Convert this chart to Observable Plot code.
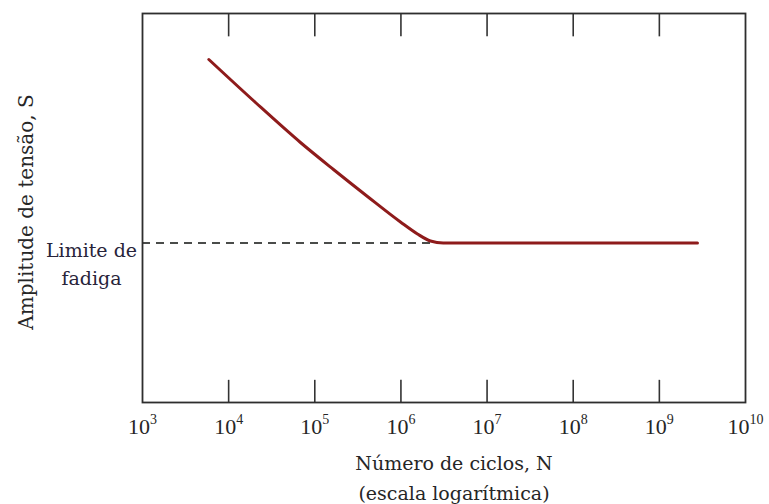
<!DOCTYPE html>
<html>
<head>
<meta charset="utf-8">
<script src="https://cdn.jsdelivr.net/npm/d3@7"></script>
<script src="https://cdn.jsdelivr.net/npm/@observablehq/plot@0.6"></script>
<style>
  html, body { margin: 0; padding: 0; background: #fff; }
  #chart svg { display: block; }
</style>
</head>
<body>
<div id="chart"></div>
<script>
// S-N curve (y axis has no units: frame spans 0–100)
const nCycles   = [5890, 20500, 68200, 164800, 409000, 988000, 1556000, 2203000, 3100000, 2770000000];
const amplitude = [88.17, 77.12, 66.84, 59.90, 52.96, 46.40, 43.32, 41.52, 41.0, 41.0];
const fatigueLimit = 41.0;
const dashStart = 1e3;
const dashEnd = 2520000;
const tickExponents = [3, 4, 5, 6, 7, 8, 9, 10];
const xLabel = "Número de ciclos, N\n(escala logarítmica)";
const yLabel = "Amplitude de tensão, S";
const limitLabel = "Limite de\nfadiga";

const ticks = tickExponents.map(e => Math.pow(10, e));
const curve = nCycles.map((n, i) => ({n, s: amplitude[i]}));
const textColor = "#262626";
const serif = "DejaVu Serif, serif";

const plot = Plot.plot({
  width: 769,
  height: 504,
  marginLeft: 142,
  marginRight: 24,
  marginTop: 13,
  marginBottom: 102,
  style: {fontFamily: serif, color: textColor, background: "#fff"},
  x: {type: "log", domain: [1e3, 1e10]},
  y: {domain: [0, 100], axis: null},
  marks: [
    Plot.axisX(ticks, {anchor: "bottom", tickSize: 0, tickPadding: 16, fontSize: 22,
      tickFormat: d => String(Math.round(Math.log10(d))), label: null}),
    Plot.ruleX(ticks.slice(1, -1), {y1: 0, y2: 5.7, stroke: "#333", strokeWidth: 1.6}),
    Plot.ruleX(ticks.slice(1, -1), {y1: 100, y2: 94.0, stroke: "#333", strokeWidth: 1.6}),
    Plot.ruleY([fatigueLimit], {x1: dashStart, x2: dashEnd, stroke: "#4a4c4a", strokeWidth: 2, strokeDasharray: "8,6"}),
    Plot.line(curve, {x: "n", y: "s", stroke: "#8e1b1b", strokeWidth: 3, curve: "monotone-x"}),
    Plot.frame({stroke: "#2e2e2e", strokeWidth: 1.8}),
    Plot.text([yLabel], {frameAnchor: "left", rotate: -90, textAnchor: "middle", dx: -116, dy: 4, fontSize: 20, fill: textColor}),
    Plot.text([limitLabel], {x: dashStart, y: fatigueLimit, dx: -51, dy: -5.5, lineAnchor: "top", lineHeight: 1.47, fontSize: 19, fill: "#28243a"}),
    Plot.text([xLabel], {frameAnchor: "bottom", lineAnchor: "top", dx: 10, dy: 46.5, lineHeight: 1.58, fontSize: 19, fill: textColor})
  ]
});

// tick labels as 10 with a superscript exponent
d3.select(plot).selectAll('g[aria-label="x-axis tick label"] text').each(function() {
  const t = d3.select(this);
  const exp = t.text();
  t.style("font-family", "Liberation Serif, serif").style("font-size", "22px");
  t.text("10");
  t.append("tspan").attr("dy", "-10").style("font-size", "14px").text(exp);
});

document.getElementById("chart").appendChild(plot);
</script>
</body>
</html>
